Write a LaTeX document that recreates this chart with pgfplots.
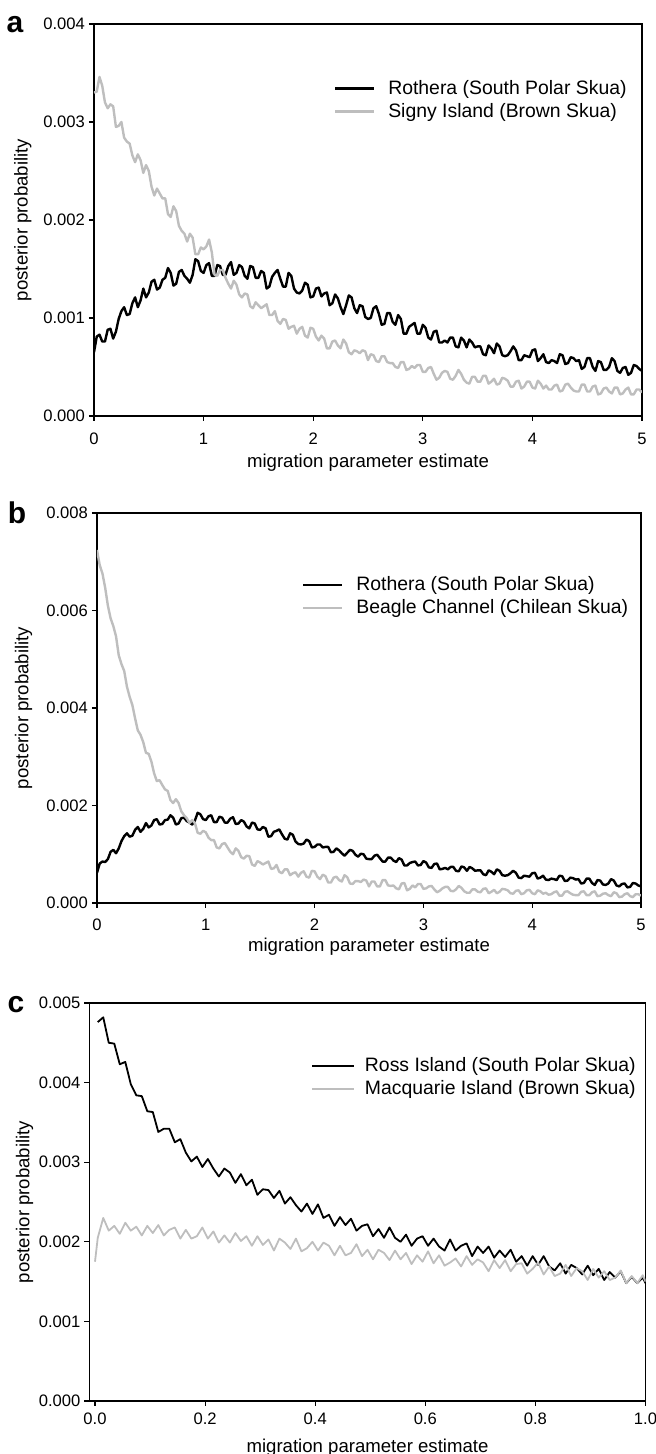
\documentclass[border=0pt]{standalone}
\usepackage{fontspec}
\setmainfont{Liberation Sans}
\usepackage{pgfplots}
\usepackage{pgfplotstable}
\pgfplotsset{compat=1.18}
\definecolor{lgray}{RGB}{190,190,190}

% x  Signy(gray)  Rothera(black)
\pgfplotstableread{
x s r
0.000 0.00330 0.00065
0.025 0.00331 0.00081
0.050 0.00346 0.00083
0.075 0.00337 0.00076
0.100 0.00320 0.00076
0.125 0.00314 0.00088
0.150 0.00318 0.00089
0.175 0.00316 0.00079
0.200 0.00295 0.00086
0.225 0.00296 0.00099
0.250 0.00300 0.00107
0.275 0.00284 0.00111
0.300 0.00280 0.00103
0.325 0.00278 0.00104
0.350 0.00266 0.00115
0.375 0.00259 0.00121
0.400 0.00267 0.00111
0.425 0.00261 0.00118
0.450 0.00248 0.00130
0.475 0.00256 0.00121
0.500 0.00250 0.00126
0.525 0.00234 0.00137
0.550 0.00225 0.00139
0.575 0.00232 0.00129
0.600 0.00227 0.00131
0.625 0.00222 0.00139
0.650 0.00222 0.00141
0.675 0.00206 0.00151
0.700 0.00203 0.00146
0.725 0.00214 0.00133
0.750 0.00209 0.00135
0.775 0.00194 0.00147
0.800 0.00189 0.00149
0.825 0.00186 0.00143
0.850 0.00178 0.00140
0.875 0.00186 0.00136
0.900 0.00182 0.00144
0.925 0.00165 0.00160
0.950 0.00165 0.00158
0.975 0.00172 0.00148
1.000 0.00170 0.00146
1.025 0.00173 0.00154
1.050 0.00180 0.00156
1.075 0.00167 0.00143
1.100 0.00144 0.00143
1.125 0.00143 0.00154
1.150 0.00149 0.00153
1.175 0.00149 0.00144
1.200 0.00141 0.00144
1.225 0.00135 0.00153
1.250 0.00130 0.00157
1.275 0.00138 0.00144
1.300 0.00134 0.00146
1.325 0.00124 0.00154
1.350 0.00121 0.00152
1.375 0.00125 0.00143
1.400 0.00124 0.00140
1.425 0.00112 0.00153
1.450 0.00110 0.00152
1.475 0.00116 0.00141
1.500 0.00113 0.00141
1.525 0.00110 0.00148
1.550 0.00112 0.00146
1.575 0.00114 0.00130
1.600 0.00103 0.00132
1.625 0.00103 0.00142
1.650 0.00107 0.00146
1.675 0.00097 0.00149
1.700 0.00094 0.00140
1.725 0.00099 0.00132
1.750 0.00098 0.00132
1.775 0.00089 0.00146
1.800 0.00091 0.00143
1.825 0.00092 0.00130
1.850 0.00084 0.00126
1.875 0.00089 0.00125
1.900 0.00091 0.00128
1.925 0.00082 0.00136
1.950 0.00080 0.00134
1.975 0.00090 0.00121
2.000 0.00089 0.00122
2.025 0.00081 0.00130
2.050 0.00077 0.00131
2.075 0.00082 0.00122
2.100 0.00079 0.00125
2.125 0.00069 0.00126
2.150 0.00069 0.00113
2.175 0.00076 0.00115
2.200 0.00077 0.00124
2.225 0.00072 0.00120
2.250 0.00069 0.00111
2.275 0.00078 0.00104
2.300 0.00074 0.00113
2.325 0.00065 0.00123
2.350 0.00063 0.00121
2.375 0.00067 0.00110
2.400 0.00066 0.00105
2.425 0.00064 0.00113
2.450 0.00067 0.00112
2.475 0.00066 0.00101
2.500 0.00057 0.00099
2.525 0.00063 0.00100
2.550 0.00062 0.00110
2.575 0.00056 0.00112
2.600 0.00055 0.00104
2.625 0.00061 0.00093
2.650 0.00061 0.00094
2.675 0.00055 0.00105
2.700 0.00054 0.00105
2.725 0.00054 0.00096
2.750 0.00050 0.00093
2.775 0.00049 0.00103
2.800 0.00055 0.00099
2.825 0.00055 0.00084
2.850 0.00047 0.00084
2.875 0.00048 0.00091
2.900 0.00051 0.00093
2.925 0.00049 0.00095
2.950 0.00052 0.00084
2.975 0.00052 0.00084
3.000 0.00045 0.00093
3.025 0.00045 0.00090
3.050 0.00049 0.00080
3.075 0.00050 0.00078
3.100 0.00043 0.00086
3.125 0.00037 0.00087
3.150 0.00039 0.00075
3.175 0.00044 0.00075
3.200 0.00046 0.00077
3.225 0.00045 0.00075
3.250 0.00038 0.00080
3.275 0.00037 0.00080
3.300 0.00041 0.00071
3.325 0.00047 0.00070
3.350 0.00043 0.00080
3.375 0.00037 0.00077
3.400 0.00034 0.00070
3.425 0.00033 0.00078
3.450 0.00040 0.00075
3.475 0.00040 0.00070
3.500 0.00035 0.00071
3.525 0.00035 0.00071
3.550 0.00041 0.00063
3.575 0.00041 0.00062
3.600 0.00033 0.00072
3.625 0.00035 0.00069
3.650 0.00038 0.00064
3.675 0.00032 0.00074
3.700 0.00033 0.00071
3.725 0.00039 0.00062
3.750 0.00038 0.00061
3.775 0.00036 0.00062
3.800 0.00030 0.00066
3.825 0.00030 0.00071
3.850 0.00035 0.00067
3.875 0.00036 0.00057
3.900 0.00028 0.00057
3.925 0.00030 0.00062
3.950 0.00035 0.00061
3.975 0.00035 0.00060
4.000 0.00029 0.00067
4.025 0.00028 0.00068
4.050 0.00036 0.00056
4.075 0.00033 0.00059
4.100 0.00028 0.00063
4.125 0.00031 0.00055
4.150 0.00027 0.00054
4.175 0.00027 0.00057
4.200 0.00031 0.00056
4.225 0.00032 0.00054
4.250 0.00025 0.00063
4.275 0.00026 0.00062
4.300 0.00032 0.00053
4.325 0.00033 0.00054
4.350 0.00029 0.00060
4.375 0.00026 0.00059
4.400 0.00025 0.00056
4.425 0.00025 0.00057
4.450 0.00032 0.00048
4.475 0.00032 0.00050
4.500 0.00025 0.00059
4.525 0.00025 0.00059
4.550 0.00030 0.00050
4.575 0.00031 0.00046
4.600 0.00022 0.00056
4.625 0.00023 0.00055
4.650 0.00028 0.00047
4.675 0.00029 0.00047
4.700 0.00025 0.00050
4.725 0.00023 0.00059
4.750 0.00029 0.00056
4.775 0.00029 0.00046
4.800 0.00022 0.00044
4.825 0.00023 0.00049
4.850 0.00027 0.00050
4.875 0.00029 0.00042
4.900 0.00022 0.00044
4.925 0.00022 0.00052
4.950 0.00027 0.00051
4.975 0.00027 0.00048
5.000 0.00024 0.00046
}\tabA

% x  Beagle(gray)  Rothera(black)
\pgfplotstableread{
x g r
0.000 0.00724 0.00062
0.025 0.00693 0.00081
0.050 0.00676 0.00085
0.075 0.00647 0.00084
0.100 0.00610 0.00090
0.125 0.00584 0.00105
0.150 0.00568 0.00109
0.175 0.00547 0.00102
0.200 0.00508 0.00112
0.225 0.00490 0.00127
0.250 0.00476 0.00137
0.275 0.00444 0.00143
0.300 0.00423 0.00136
0.325 0.00406 0.00138
0.350 0.00379 0.00150
0.375 0.00354 0.00156
0.400 0.00345 0.00146
0.425 0.00330 0.00152
0.450 0.00308 0.00164
0.475 0.00306 0.00155
0.500 0.00290 0.00159
0.525 0.00266 0.00170
0.550 0.00250 0.00172
0.575 0.00252 0.00161
0.600 0.00242 0.00162
0.625 0.00233 0.00170
0.650 0.00230 0.00171
0.675 0.00211 0.00180
0.700 0.00205 0.00175
0.725 0.00213 0.00161
0.750 0.00205 0.00163
0.775 0.00188 0.00174
0.800 0.00180 0.00175
0.825 0.00174 0.00168
0.850 0.00164 0.00165
0.875 0.00170 0.00161
0.900 0.00164 0.00169
0.925 0.00144 0.00185
0.950 0.00142 0.00182
0.975 0.00148 0.00172
1.000 0.00145 0.00170
1.025 0.00134 0.00178
1.050 0.00129 0.00180
1.075 0.00129 0.00166
1.100 0.00114 0.00166
1.125 0.00112 0.00177
1.150 0.00121 0.00175
1.175 0.00123 0.00165
1.200 0.00114 0.00165
1.225 0.00105 0.00173
1.250 0.00100 0.00176
1.275 0.00112 0.00162
1.300 0.00107 0.00163
1.325 0.00094 0.00170
1.350 0.00091 0.00167
1.375 0.00097 0.00157
1.400 0.00096 0.00153
1.425 0.00079 0.00165
1.450 0.00076 0.00163
1.475 0.00086 0.00151
1.500 0.00083 0.00150
1.525 0.00079 0.00156
1.550 0.00082 0.00153
1.575 0.00085 0.00136
1.600 0.00070 0.00137
1.625 0.00071 0.00146
1.650 0.00078 0.00148
1.675 0.00064 0.00151
1.700 0.00061 0.00141
1.725 0.00069 0.00132
1.750 0.00069 0.00130
1.775 0.00057 0.00143
1.800 0.00061 0.00140
1.825 0.00063 0.00126
1.850 0.00054 0.00121
1.875 0.00062 0.00120
1.900 0.00065 0.00122
1.925 0.00054 0.00130
1.950 0.00052 0.00127
1.975 0.00066 0.00114
2.000 0.00065 0.00115
2.025 0.00054 0.00120
2.050 0.00049 0.00120
2.075 0.00058 0.00114
2.100 0.00055 0.00115
2.125 0.00042 0.00115
2.150 0.00042 0.00104
2.175 0.00052 0.00105
2.200 0.00054 0.00112
2.225 0.00047 0.00108
2.250 0.00044 0.00102
2.275 0.00057 0.00097
2.300 0.00053 0.00103
2.325 0.00040 0.00109
2.350 0.00039 0.00107
2.375 0.00045 0.00099
2.400 0.00045 0.00095
2.425 0.00043 0.00101
2.450 0.00048 0.00100
2.475 0.00046 0.00091
2.500 0.00034 0.00090
2.525 0.00044 0.00090
2.550 0.00044 0.00097
2.575 0.00034 0.00099
2.600 0.00034 0.00092
2.625 0.00047 0.00085
2.650 0.00047 0.00085
2.675 0.00036 0.00093
2.700 0.00035 0.00093
2.725 0.00036 0.00087
2.750 0.00030 0.00084
2.775 0.00028 0.00092
2.800 0.00040 0.00089
2.825 0.00041 0.00077
2.850 0.00026 0.00077
2.875 0.00029 0.00082
2.900 0.00036 0.00084
2.925 0.00032 0.00085
2.950 0.00039 0.00077
2.975 0.00039 0.00078
3.000 0.00029 0.00086
3.025 0.00030 0.00083
3.050 0.00034 0.00073
3.075 0.00035 0.00072
3.100 0.00028 0.00080
3.125 0.00022 0.00081
3.150 0.00025 0.00069
3.175 0.00030 0.00070
3.200 0.00033 0.00072
3.225 0.00033 0.00069
3.250 0.00025 0.00074
3.275 0.00024 0.00074
3.300 0.00028 0.00066
3.325 0.00035 0.00065
3.350 0.00031 0.00075
3.375 0.00024 0.00073
3.400 0.00021 0.00066
3.425 0.00021 0.00074
3.450 0.00028 0.00071
3.475 0.00028 0.00066
3.500 0.00023 0.00067
3.525 0.00022 0.00067
3.550 0.00029 0.00059
3.575 0.00030 0.00057
3.600 0.00020 0.00067
3.625 0.00023 0.00064
3.650 0.00027 0.00059
3.675 0.00020 0.00069
3.700 0.00023 0.00066
3.725 0.00029 0.00057
3.750 0.00028 0.00056
3.775 0.00026 0.00057
3.800 0.00020 0.00061
3.825 0.00019 0.00066
3.850 0.00025 0.00062
3.875 0.00026 0.00052
3.900 0.00018 0.00051
3.925 0.00020 0.00056
3.950 0.00026 0.00055
3.975 0.00027 0.00054
4.000 0.00020 0.00061
4.025 0.00018 0.00062
4.050 0.00026 0.00050
4.075 0.00024 0.00052
4.100 0.00019 0.00056
4.125 0.00021 0.00048
4.150 0.00017 0.00047
4.175 0.00018 0.00050
4.200 0.00022 0.00049
4.225 0.00024 0.00047
4.250 0.00015 0.00056
4.275 0.00015 0.00055
4.300 0.00023 0.00045
4.325 0.00024 0.00046
4.350 0.00020 0.00052
4.375 0.00017 0.00051
4.400 0.00016 0.00048
4.425 0.00016 0.00049
4.450 0.00023 0.00040
4.475 0.00024 0.00041
4.500 0.00016 0.00050
4.525 0.00016 0.00050
4.550 0.00022 0.00041
4.575 0.00024 0.00037
4.600 0.00014 0.00047
4.625 0.00015 0.00046
4.650 0.00019 0.00038
4.675 0.00020 0.00037
4.700 0.00016 0.00040
4.725 0.00014 0.00049
4.750 0.00022 0.00046
4.775 0.00020 0.00036
4.800 0.00012 0.00034
4.825 0.00013 0.00039
4.850 0.00018 0.00040
4.875 0.00020 0.00032
4.900 0.00014 0.00033
4.925 0.00012 0.00041
4.950 0.00018 0.00040
4.975 0.00018 0.00036
5.000 0.00015 0.00034
}\tabB

% x  Ross(black)  Macquarie(gray)
\pgfplotstableread{
x r m
0.000 nan 0.00175
0.005 0.00476 0.00205
0.015 0.00482 0.00230
0.025 0.00450 0.00214
0.035 0.00449 0.00220
0.045 0.00423 0.00210
0.055 0.00426 0.00224
0.065 0.00398 0.00214
0.075 0.00384 0.00219
0.085 0.00383 0.00208
0.095 0.00364 0.00220
0.105 0.00363 0.00211
0.115 0.00338 0.00221
0.125 0.00342 0.00208
0.135 0.00342 0.00215
0.145 0.00325 0.00218
0.155 0.00329 0.00204
0.165 0.00312 0.00215
0.175 0.00301 0.00204
0.185 0.00307 0.00207
0.195 0.00294 0.00218
0.205 0.00304 0.00204
0.215 0.00292 0.00213
0.225 0.00282 0.00199
0.235 0.00292 0.00208
0.245 0.00287 0.00199
0.255 0.00274 0.00211
0.265 0.00285 0.00201
0.275 0.00271 0.00207
0.285 0.00278 0.00195
0.295 0.00259 0.00207
0.305 0.00266 0.00196
0.315 0.00265 0.00203
0.325 0.00255 0.00189
0.335 0.00264 0.00204
0.345 0.00248 0.00199
0.355 0.00256 0.00191
0.365 0.00246 0.00204
0.375 0.00238 0.00188
0.385 0.00248 0.00192
0.395 0.00235 0.00200
0.405 0.00247 0.00189
0.415 0.00230 0.00199
0.425 0.00234 0.00195
0.435 0.00220 0.00183
0.445 0.00231 0.00195
0.455 0.00221 0.00183
0.465 0.00229 0.00186
0.475 0.00214 0.00197
0.485 0.00220 0.00182
0.495 0.00222 0.00190
0.505 0.00207 0.00178
0.515 0.00216 0.00190
0.525 0.00205 0.00186
0.535 0.00218 0.00177
0.545 0.00205 0.00189
0.555 0.00200 0.00178
0.565 0.00209 0.00186
0.575 0.00195 0.00172
0.585 0.00204 0.00183
0.595 0.00207 0.00175
0.605 0.00195 0.00188
0.615 0.00204 0.00173
0.625 0.00194 0.00183
0.635 0.00189 0.00170
0.645 0.00203 0.00174
0.655 0.00189 0.00179
0.665 0.00195 0.00169
0.675 0.00198 0.00182
0.685 0.00182 0.00171
0.695 0.00194 0.00178
0.705 0.00186 0.00174
0.715 0.00194 0.00163
0.725 0.00180 0.00177
0.735 0.00189 0.00167
0.745 0.00181 0.00177
0.755 0.00190 0.00163
0.765 0.00175 0.00172
0.775 0.00182 0.00173
0.785 0.00170 0.00160
0.795 0.00182 0.00166
0.805 0.00171 0.00174
0.815 0.00182 0.00159
0.825 0.00169 0.00169
0.835 0.00164 0.00157
0.845 0.00173 0.00160
0.855 0.00160 0.00171
0.865 0.00171 0.00157
0.875 0.00167 0.00167
0.885 0.00159 0.00163
0.895 0.00170 0.00152
0.905 0.00158 0.00166
0.915 0.00166 0.00155
0.925 0.00152 0.00163
0.935 0.00162 0.00152
0.945 0.00155 0.00155
0.955 0.00163 0.00164
0.965 0.00148 0.00148
0.975 0.00156 0.00157
0.985 0.00148 0.00148
0.995 0.00155 0.00158
1.000 0.00148 0.00150
}\tabC

\pgfplotsset{skua/.style={
  scale only axis,
  axis line style={line width=0.6pt},
  tick align=outside,
  xtick pos=bottom, ytick pos=left,
  major tick length=2.5pt,
  tick style={line width=0.6pt, black},
  ticklabel style={font=\fontsize{8.3}{9}\selectfont},
  /pgf/number format/assume math mode=true,
  scaled y ticks=false,
  scaled x ticks=false,
  yticklabel style={xshift=1.5pt, /pgf/number format/.cd, fixed, fixed zerofill, precision=3},
  label style={font=\fontsize{9.3}{11}\selectfont},
  xlabel={migration parameter estimate},
  ylabel={posterior probability},
  legend style={draw=none, fill=none, inner sep=0pt, font=\fontsize{9.7}{11}\selectfont,
    nodes={inner sep=0pt, anchor=west}, row sep=3pt, column sep=6.5pt},
  legend cell align=left,
  legend image code/.code={\draw[#1] (0pt,0pt) -- (19.5pt,0pt);},
  unbounded coords=discard,
}}

\begin{document}
\begin{tikzpicture}
\useasboundingbox (0,0) rectangle (327.5pt,727pt);

% ---------- panel a ----------
\begin{axis}[skua,
  at={(47pt,519pt)}, anchor=south west,
  width=274pt, height=196pt,
  xmin=0, xmax=5, ymin=0, ymax=0.004,
  xtick={0,1,2,3,4,5},
  ytick={0,0.001,0.002,0.003,0.004},
  xticklabel style={yshift=-2.5pt},
  xlabel style={at={(axis description cs:0.5,0)}, anchor=center, yshift=-23.5pt},
  ylabel style={at={(axis description cs:-0.13,0.5)}, anchor=center},
  legend style={at={(axis description cs:0.437,0.806)}, anchor=west},
]
\addplot[black, line width=1.2pt, line join=round] table[x=x, y=r] {\tabA};
\addlegendentry{Rothera (South Polar Skua)}
\addplot[lgray, line width=1.2pt, line join=round] table[x=x, y=s] {\tabA};
\addlegendentry{Signy Island (Brown Skua)}
\end{axis}

% ---------- panel b ----------
\begin{axis}[skua,
  at={(48.5pt,275.5pt)}, anchor=south west,
  width=272pt, height=195pt,
  xmin=0, xmax=5, ymin=0, ymax=0.008,
  xtick={0,1,2,3,4,5},
  ytick={0,0.002,0.004,0.006,0.008},
  xticklabel style={yshift=-2pt},
  xlabel style={at={(axis description cs:0.5,0)}, anchor=center, yshift=-22pt},
  ylabel style={at={(axis description cs:-0.135,0.5)}, anchor=center},
  legend style={at={(axis description cs:0.376,0.786)}, anchor=west},
]
\addplot[black, line width=1.2pt, line join=round] table[x=x, y=r] {\tabB};
\addlegendentry{Rothera (South Polar Skua)}
\addplot[lgray, line width=1.2pt, line join=round] table[x=x, y=g] {\tabB};
\addlegendentry{Beagle Channel (Chilean Skua)}
\end{axis}

% ---------- panel c ----------
\begin{axis}[skua,
  at={(44.75pt,26.5pt)}, anchor=south west,
  width=278pt, height=199pt,
  xmin=-0.01, xmax=1.0, ymin=0, ymax=0.005,
  xtick={0,0.2,0.4,0.6,0.8,1.0},
  ytick={0,0.001,0.002,0.003,0.004,0.005},
  xticklabel style={/pgf/number format/.cd, fixed, fixed zerofill, precision=1},
  xlabel style={at={(axis description cs:0.5,0)}, anchor=center, yshift=-23.5pt},
  ylabel style={at={(axis description cs:-0.117,0.5)}, anchor=center},
  legend style={at={(axis description cs:0.398,0.812)}, anchor=west, column sep=5pt},
  legend image code/.code={\draw[#1] (0pt,0pt) -- (21pt,0pt);},
]
\addplot[black, line width=0.9pt, line join=round] table[x=x, y=r] {\tabC};
\addlegendentry{Ross Island (South Polar Skua)}
\addplot[lgray, line width=0.9pt, line join=round] table[x=x, y=m] {\tabC};
\addlegendentry{Macquarie Island (Brown Skua)}
\end{axis}

% panel letters
\node[font=\fontsize{15}{15}\selectfont\bfseries] at (7.5pt,714.75pt) {a};
\node[font=\fontsize{15}{15}\selectfont\bfseries] at (8.5pt,470.5pt) {b};
\node[font=\fontsize{15}{15}\selectfont\bfseries] at (8pt,224.5pt) {c};
\end{tikzpicture}
\end{document}
